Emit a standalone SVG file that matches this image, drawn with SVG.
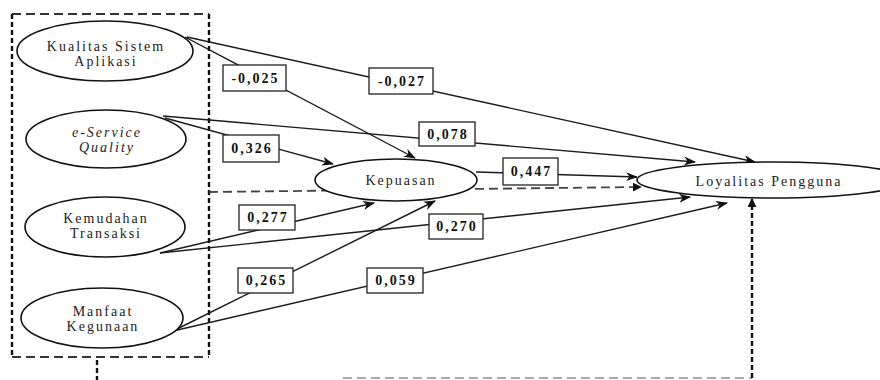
<svg xmlns="http://www.w3.org/2000/svg" width="880" height="380" viewBox="0 0 880 380">
<style>
.bg{fill:#fff}
.node ellipse{fill:#fff;stroke:#111;stroke-width:1.6}
.node text{font-family:"Liberation Serif","Times New Roman",serif;font-size:14px;letter-spacing:2px;fill:#222;text-anchor:middle}
.it{font-style:italic}
.conn line{stroke:#1a1a1a;stroke-width:1.4;marker-end:url(#arr)}
.lbl rect{fill:#fff;stroke:#222;stroke-width:1.3}
.lbl text{font-family:"Liberation Serif","Times New Roman",serif;font-size:14px;font-weight:bold;letter-spacing:2px;fill:#111;text-anchor:middle}
.dh{fill:none;stroke:#333;stroke-width:2;stroke-dasharray:9 5}
.dv{fill:none;stroke:#111;stroke-width:2.4;stroke-dasharray:5 3}
</style>
<defs>
<marker id="arr" viewBox="0 0 12 10" refX="11" refY="5" markerWidth="12" markerHeight="10" markerUnits="userSpaceOnUse" orient="auto"><path d="M0,0.5 L12,5 L0,9.5 L3.5,5 Z" fill="#111"/></marker>
<marker id="tri" viewBox="0 0 10 10" refX="9" refY="5" markerWidth="9" markerHeight="9" markerUnits="userSpaceOnUse" orient="auto"><path d="M0,0 L10,5 L0,10 Z" fill="#111"/></marker>
</defs>
<rect class="bg" x="0" y="0" width="880" height="380"/>
<g id="boundary">
<line class="dh" x1="12" y1="14" x2="209" y2="14"/>
<line class="dh" x1="12" y1="357" x2="209" y2="357"/>
<line class="dv" x1="12" y1="14" x2="12" y2="357"/>
<line class="dv" x1="209" y1="14" x2="209" y2="357"/>
<line class="dv" x1="97" y1="360" x2="97" y2="380"/>
</g>
<g id="connectors" class="conn">
<line x1="185" y1="37" x2="415" y2="158"/>
<line x1="187" y1="37" x2="755" y2="162"/>
<line x1="163" y1="116" x2="695" y2="162"/>
<line x1="165" y1="118" x2="333" y2="164"/>
<line x1="476" y1="172" x2="637" y2="177"/>
<line x1="160" y1="253" x2="374" y2="203"/>
<line x1="160" y1="253" x2="690" y2="197"/>
<line x1="173" y1="331" x2="435" y2="201"/>
<line x1="173" y1="331" x2="727" y2="203"/>
<path d="M209,192 L641,187" fill="none" stroke="#444" stroke-width="1.8" stroke-dasharray="9 5" marker-end="url(#tri)"/>
<path d="M343,378 L752,378" fill="none" stroke="#aaa" stroke-width="2" stroke-dasharray="9 5"/>
<path d="M752,378 L752,199" fill="none" stroke="#111" stroke-width="2.4" stroke-dasharray="5 3" marker-end="url(#tri)"/>
</g>
<g id="kualitas" class="node"><ellipse cx="105" cy="51" rx="88" ry="30"/><text x="106" y="51">Kualitas Sistem</text><text x="106" y="66">Aplikasi</text></g>
<g id="eservice" class="node"><ellipse cx="106" cy="139" rx="80" ry="29"/><text class="it" x="107" y="137">e-Service</text><text class="it" x="107" y="152">Quality</text></g>
<g id="kemudahan" class="node"><ellipse cx="105" cy="227" rx="80" ry="30"/><text x="106" y="223">Kemudahan</text><text x="106" y="238">Transaksi</text></g>
<g id="manfaat" class="node"><ellipse cx="102" cy="318" rx="81" ry="30"/><text x="103" y="316">Manfaat</text><text x="103" y="331">Kegunaan</text></g>
<g id="kepuasan" class="node"><ellipse cx="396" cy="180" rx="81" ry="21"/><text x="401" y="185">Kepuasan</text></g>
<g id="loyalitas" class="node"><ellipse cx="772" cy="180" rx="135" ry="18"/><text x="769" y="186">Loyalitas Pengguna</text></g>
<g id="labels">
<g class="lbl"><rect x="223" y="65" width="63" height="26"/><text x="255.5" y="83">-0,025</text></g>
<g class="lbl"><rect x="369" y="68" width="64" height="26"/><text x="402" y="86">-0,027</text></g>
<g class="lbl"><rect x="419" y="122" width="56" height="24"/><text x="448" y="139">0,078</text></g>
<g class="lbl"><rect x="223" y="135" width="56" height="27"/><text x="252" y="153">0,326</text></g>
<g class="lbl"><rect x="503" y="158" width="55" height="27"/><text x="531.5" y="176">0,447</text></g>
<g class="lbl"><rect x="239" y="205" width="56" height="25"/><text x="268" y="222">0,277</text></g>
<g class="lbl"><rect x="429" y="214" width="54" height="25"/><text x="457" y="231">0,270</text></g>
<g class="lbl"><rect x="238" y="268" width="55" height="25"/><text x="266.5" y="285">0,265</text></g>
<g class="lbl"><rect x="367" y="268" width="56" height="25"/><text x="396" y="285">0,059</text></g>
</g>
</svg>
